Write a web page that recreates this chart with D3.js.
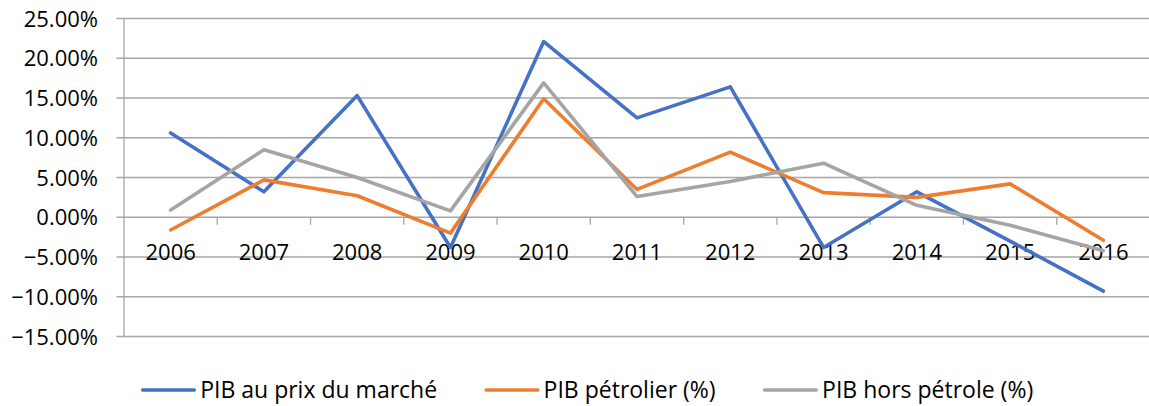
<!DOCTYPE html>
<html>
<head>
<meta charset="utf-8">
<script src="https://cdn.jsdelivr.net/npm/d3@7"></script>
<style>
  html, body { margin: 0; padding: 0; background: #fff; }
  svg { display: block; }
  text { font-family: "Open Sans", Lato, sans-serif; fill: #000; }
</style>
</head>
<body>
<svg id="chart" width="1149" height="406"></svg>
<script>
// Years on the category axis
const years = ["2006", "2007", "2008", "2009", "2010", "2011", "2012", "2013", "2014", "2015", "2016"];

// Annual growth rates, in percent
const pibMarche   = [10.6, 3.2, 15.3, -3.8, 22.1, 12.5, 16.4, -3.8, 3.2, -3.0, -9.3];
const pibPetrolier = [-1.6, 4.7, 2.7, -2.0, 14.9, 3.5, 8.2, 3.1, 2.5, 4.2, -2.9];
const pibHorsPetrole = [0.9, 8.5, 5.0, 0.8, 16.9, 2.6, 4.5, 6.8, 1.5, -1.0, -4.2];

// Value-axis ticks
const yTicks = [25, 20, 15, 10, 5, 0, -5, -10, -15];

const seriesNames = ["PIB au prix du marché", "PIB pétrolier (%)", "PIB hors pétrole (%)"];
const seriesColors = ["#4472C4", "#ED7D31", "#A5A5A5"];

const series = [pibMarche, pibPetrolier, pibHorsPetrole].map((values, i) => ({
  name: seriesNames[i],
  color: seriesColors[i],
  values
}));

const svg = d3.select("#chart");
const plot = { left: 124, right: 1150, top: 18.5, bottom: 336.5 };

const x = d3.scaleBand().domain(years).range([plot.left, plot.right]).padding(0);
const y = d3.scaleLinear().domain([-15, 25]).range([plot.bottom, plot.top]);

const gridColor = "#a6a6a6";

// Horizontal gridlines and left-side tick marks
svg.append("g")
  .selectAll("line")
  .data(yTicks)
  .join("line")
  .attr("x1", plot.left - 7.5)
  .attr("x2", plot.right)
  .attr("y1", d => y(d))
  .attr("y2", d => y(d))
  .attr("stroke", gridColor)
  .attr("stroke-width", 1.3);

// Vertical value axis line
svg.append("line")
  .attr("x1", plot.left).attr("x2", plot.left)
  .attr("y1", plot.top).attr("y2", plot.bottom)
  .attr("stroke", gridColor).attr("stroke-width", 1.3);

// Value-axis labels
const fmt = d3.format(".2f");
svg.append("g")
  .selectAll("text")
  .data(yTicks)
  .join("text")
  .attr("x", 98)
  .attr("y", d => y(d) + 8)
  .attr("text-anchor", "end")
  .attr("font-size", 22)
  .text(d => fmt(d) + "%");

// Category axis sits on the zero line
const y0 = y(0);
svg.append("g")
  .selectAll("line")
  .data(years)
  .join("line")
  .attr("x1", d => x(d) + x.step())
  .attr("x2", d => x(d) + x.step())
  .attr("y1", y0)
  .attr("y2", y0 + 7.5)
  .attr("stroke", gridColor)
  .attr("stroke-width", 1.3);

svg.append("g")
  .selectAll("text")
  .data(years)
  .join("text")
  .attr("x", d => x(d) + x.bandwidth() / 2)
  .attr("y", 260)
  .attr("text-anchor", "middle")
  .attr("font-size", 22)
  .text(d => d);

// Series lines
const line = d3.line()
  .x((d, i) => x(years[i]) + x.bandwidth() / 2)
  .y(d => y(d));

svg.append("g")
  .selectAll("path")
  .data(series)
  .join("path")
  .attr("d", d => line(d.values))
  .attr("fill", "none")
  .attr("stroke", d => d.color)
  .attr("stroke-width", 3.6)
  .attr("stroke-linejoin", "round")
  .attr("stroke-linecap", "round");

// Legend
const legend = svg.append("g");
let lx = 142.7;
const ly = 390;
series.forEach(s => {
  legend.append("line")
    .attr("x1", lx).attr("x2", lx + 51.6)
    .attr("y1", ly).attr("y2", ly)
    .attr("stroke", s.color)
    .attr("stroke-width", 3.6)
    .attr("stroke-linecap", "round");
  const t = legend.append("text")
    .attr("x", lx + 57.5)
    .attr("y", ly + 8)
    .attr("font-size", 23)
    .text(s.name);
  lx += 57.5 + t.node().getComputedTextLength() + 49;
});
</script>
</body>
</html>
